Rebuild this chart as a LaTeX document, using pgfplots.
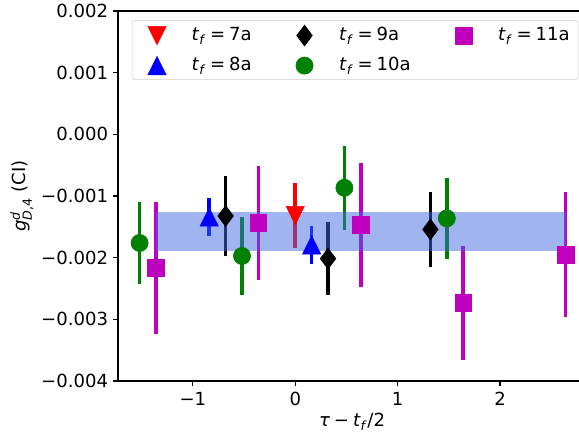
\documentclass[border=0pt]{standalone}
\usepackage{amsmath}
\usepackage{fontspec}
\setmainfont{DejaVu Sans}
\usepackage{pgfplots}
\pgfplotsset{compat=1.18}
\definecolor{royalblue}{RGB}{65,105,225}
\definecolor{mplgreen}{RGB}{0,128,0}
\definecolor{mplmag}{RGB}{191,0,191}
\newcommand{\tf}{\textit{t}\textsubscript{\textit{f}}}
\newcommand{\eqs}{\kern0.22em=\kern0.22em}
\begin{document}
\fontsize{13}{15.6}\selectfont
\begin{tikzpicture}
\begin{axis}[
  name=ax,
  scale only axis,
  width=337pt, height=266.4pt,
  xmin=-1.731, xmax=2.84,
  ymin=-0.004, ymax=0.002,
  xtick={-1,0,1,2},
  xticklabels={−1,0,1,2},
  ytick={-0.004,-0.003,-0.002,-0.001,0,0.001,0.002},
  yticklabels={−0.004,−0.003,−0.002,−0.001,0.000,0.001,0.002},
  scaled y ticks=false,
  scaled x ticks=false,
  tick align=outside,
  xtick pos=bottom, ytick pos=left,
  major tick length=3.5pt,
  every tick/.style={black, line width=0.8pt},
  axis line style={line width=0.8pt},
  tick label style={inner sep=0pt},
  yticklabel style={xshift=-3.5pt},
  xticklabel style={yshift=-4.5pt},
  xlabel={\textit{τ}\kern0.22em−\kern0.22em\tf/2},
  ylabel={$\textit{g}^{\text{\textit{d}}}_{\text{\textit{D},4}}$ (CI)},
  xlabel style={at={(axis description cs:0.5,0)}, anchor=center, yshift=-29.3pt},
  ylabel style={at={(axis description cs:-0.2057,0.5)}, anchor=center},
  legend columns=3,
  legend cell align=left,
  legend image code/.code={\path[draw=none,fill=none] (-12pt,-6pt) rectangle (12pt,6pt); \draw[#1, rounded corners=0pt] plot coordinates {(0pt,0pt)};},
  legend style={at={(axis description cs:0,1)}, anchor=north west, xshift=9.9pt, yshift=-6.5pt,
    draw=black!20, rounded corners=2pt, inner xsep=6pt, inner ysep=3.5pt, row sep=7.5pt,
    nodes={inner sep=0pt},
    /tikz/every even column/.append style={column sep=26pt},
    /tikz/every odd column/.append style={column sep=13pt}},
]
% t_f = 10a
\addplot[forget plot, only marks, color=mplgreen, mark=*, mark size=6.2pt,
  error bars/.cd, y dir=both, y explicit, error mark=none, error bar style={line width=2.6pt, mplgreen}]
  coordinates {(-1.52,-0.001762) +- (0,0.000670) (-0.52,-0.001973) +- (0,0.000637)
               (0.48,-0.000867) +- (0,0.000678) (1.48,-0.001362) +- (0,0.000659)};
% t_f = 11a
\addplot[forget plot, only marks, color=mplmag, mark=square*, mark size=6pt,
  error bars/.cd, y dir=both, y explicit, error mark=none, error bar style={line width=2.6pt, mplmag}]
  coordinates {(-1.36,-0.002167) +- (0,0.001075) (-0.36,-0.001435) +- (0,0.000927)
               (0.64,-0.001470) +- (0,0.001000) (1.64,-0.002735) +- (0,0.000924)
               (2.64,-0.001948) +- (0,0.001018)};
% t_f = 7a
\addplot[forget plot, only marks, color=red, mark=triangle*, mark size=7.6pt, mark options={rotate=180, yshift=-2.2pt, yscale=1.16},
  error bars/.cd, y dir=both, y explicit, error mark=none, error bar style={line width=2.6pt, red}]
  coordinates {(0,-0.001316) +- (0,0.000527)};
% t_f = 8a
\addplot[forget plot, only marks, color=blue, mark=triangle*, mark size=7.6pt, mark options={yshift=-2.2pt, yscale=1.16},
  error bars/.cd, y dir=both, y explicit, error mark=none, error bar style={line width=2.6pt, blue}]
  coordinates {(-0.84,-0.001340) +- (0,0.000308) (0.16,-0.001794) +- (0,0.000313)};
% t_f = 9a
\addplot[forget plot, only marks, color=black, mark=diamond*, mark size=7.5pt,
  error bars/.cd, y dir=both, y explicit, error mark=none, error bar style={line width=2.6pt, black}]
  coordinates {(-0.68,-0.001324) +- (0,0.000649) (0.32,-0.002016) +- (0,0.000594)
               (1.32,-0.001543) +- (0,0.000613)};
% band
\addplot[forget plot, draw=none, fill=royalblue, fill opacity=0.5]
  coordinates {(-1.36,-0.001264) (2.64,-0.001264) (2.64,-0.001887) (-1.36,-0.001887)} -- cycle;
% legend
\addlegendimage{only marks, color=red, mark=triangle*, mark size=7.6pt, mark options={rotate=180, yshift=-2.2pt, yscale=1.16}}
\addlegendentry{\tf\eqs7a}
\addlegendimage{only marks, color=black, mark=diamond*, mark size=7.5pt}
\addlegendentry{\tf\eqs9a}
\addlegendimage{only marks, color=mplmag, mark=square*, mark size=6pt}
\addlegendentry{\tf\eqs11a}
\addlegendimage{only marks, color=blue, mark=triangle*, mark size=7.6pt, mark options={yshift=-2.2pt, yscale=1.16}}
\addlegendentry{\tf\eqs8a}
\addlegendimage{only marks, color=mplgreen, mark=*, mark size=6.2pt}
\addlegendentry{\tf\eqs10a}
\end{axis}
\pgfresetboundingbox
\path ([shift={(-84.96pt,-38.88pt)}]ax.south west) rectangle ([shift={(331.92pt,7.92pt)}]ax.north west);
\end{tikzpicture}
\end{document}
